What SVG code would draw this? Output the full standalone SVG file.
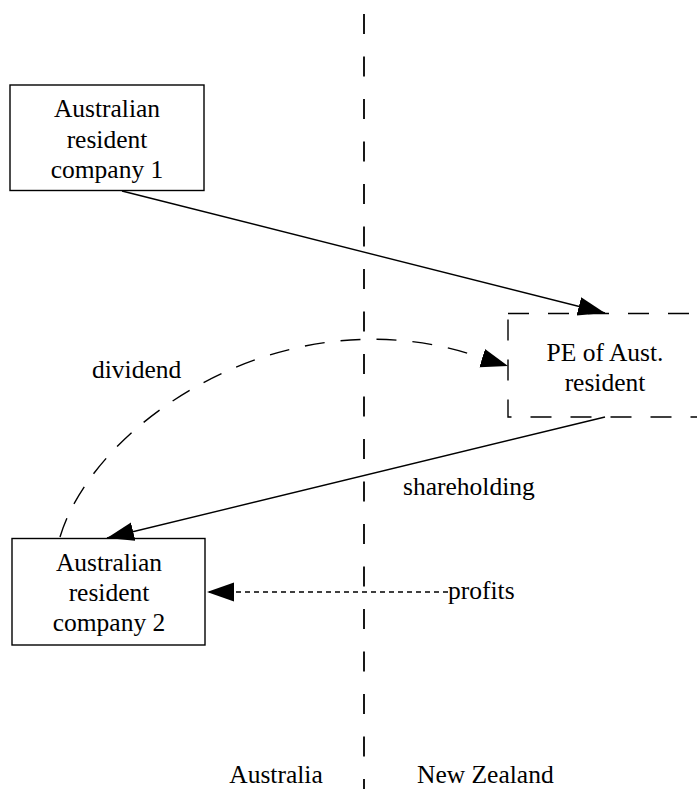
<svg xmlns="http://www.w3.org/2000/svg" width="697" height="789" viewBox="0 0 697 789">
  <style>
    .bg { fill: #ffffff; }
    .box { fill: none; stroke: #000; stroke-width: 1.4; }
    .box-dashed { fill: none; stroke: #000; stroke-width: 1.4; stroke-dasharray: 21 19; }
    .border { fill: none; stroke: #000; stroke-width: 1.8; stroke-dasharray: 20 22.5; }
    .edge { fill: none; stroke: #000; stroke-width: 1.4; }
    .edge-dashed { fill: none; stroke: #000; stroke-width: 1.4; stroke-dasharray: 20 16; }
    .edge-dotted { fill: none; stroke: #000; stroke-width: 1.3; stroke-dasharray: 5 4; }
    text { font-family: "Liberation Serif", "Times New Roman", serif; font-size: 25.5px; fill: #000; }
    .c { text-anchor: middle; }
  </style>
  <defs>
    <marker id="arrow" markerUnits="userSpaceOnUse" markerWidth="28" markerHeight="20" refX="27" refY="9.5" orient="auto">
      <path d="M0,0 L27,9.5 L0,19 z" fill="#000"/>
    </marker>
  </defs>

  <rect class="bg" x="0" y="0" width="697" height="789"/>

  <!-- country border -->
  <g id="border">
    <line class="border" x1="364" y1="14" x2="364" y2="789"/>
    <text class="c" x="276" y="783">Australia</text>
    <text x="417" y="783">New Zealand</text>
  </g>

  <!-- nodes -->
  <g id="company1">
    <rect class="box" x="10" y="85" width="194" height="105.5"/>
    <text class="c" x="107" y="117">Australian</text>
    <text class="c" x="107" y="148">resident</text>
    <text class="c" x="107" y="178">company 1</text>
  </g>

  <g id="pe">
    <rect class="box-dashed" x="508" y="313.5" width="230" height="103.5"/>
    <text class="c" x="605" y="361">PE of Aust.</text>
    <text class="c" x="605" y="391">resident</text>
  </g>

  <g id="company2">
    <rect class="box" x="12" y="538.5" width="193" height="106.5"/>
    <text class="c" x="109" y="571">Australian</text>
    <text class="c" x="109" y="601">resident</text>
    <text class="c" x="109" y="631">company 2</text>
  </g>

  <!-- connectors -->
  <g id="edges">
    <path class="edge" d="M122,191 L605,313" marker-end="url(#arrow)"/>
    <path class="edge-dashed" d="M60,537 C95,420 290,290 482,358 L508,366" marker-end="url(#arrow)"/>
    <path class="edge" d="M605,417 L107,538" marker-end="url(#arrow)"/>
    <path class="edge-dotted" d="M448,592 L207,592" marker-end="url(#arrow)"/>
    <text x="92" y="378">dividend</text>
    <text x="403" y="495">shareholding</text>
    <text x="448" y="599">profits</text>
  </g>
</svg>
